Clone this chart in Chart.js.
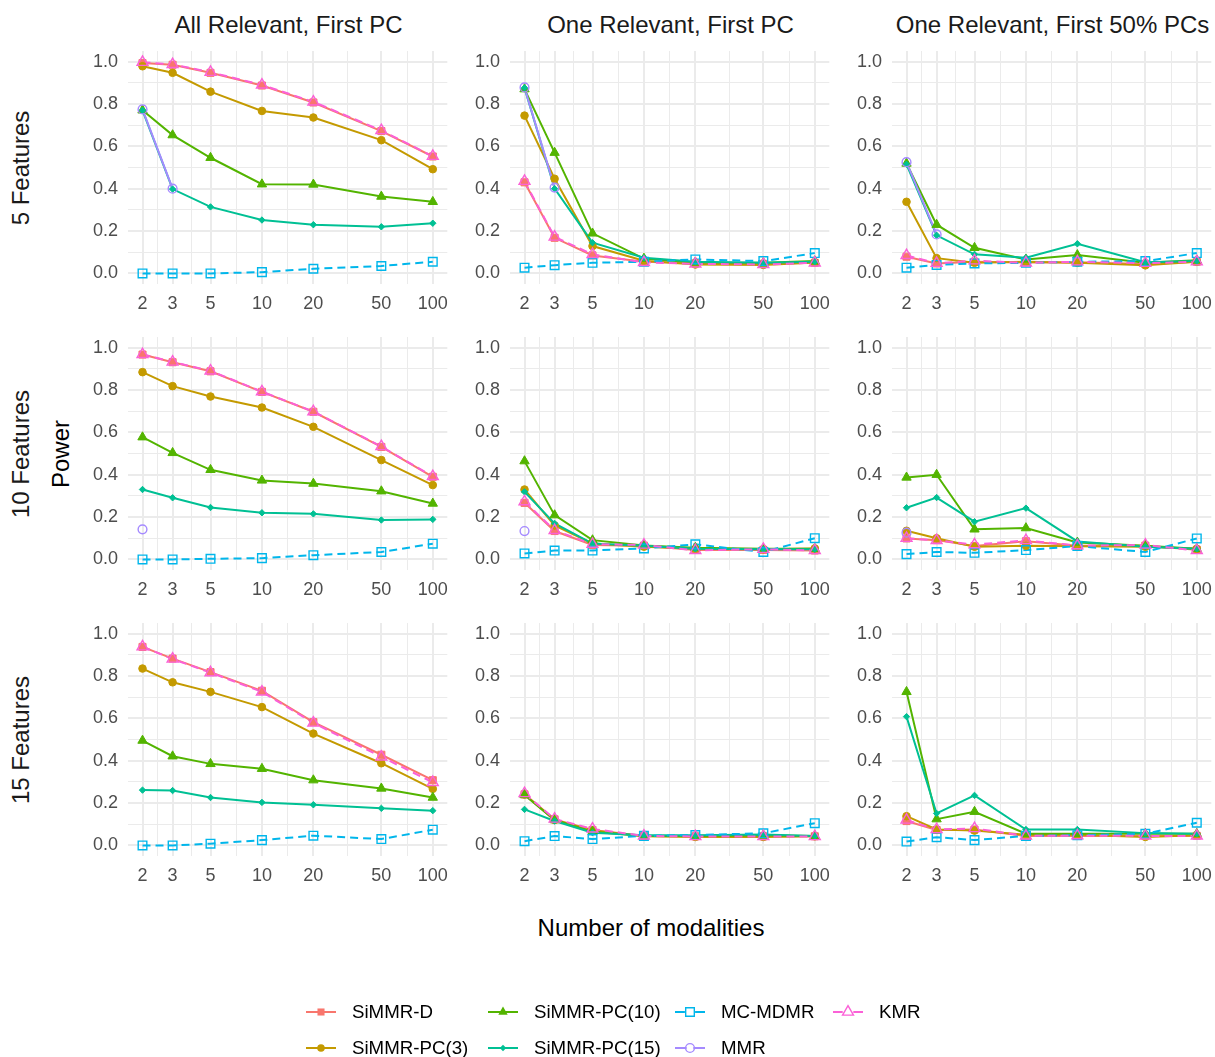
<!DOCTYPE html>
<html>
<head>
<meta charset="utf-8">
<script src="https://cdn.jsdelivr.net/npm/chart.js@4.4.1/dist/chart.umd.min.js"></script>
<style>
html, body { margin: 0; padding: 0; background: #fff; overflow: hidden; }
body { width: 1215px; height: 1057px; position: relative; font-family: "Liberation Sans", Arial, Helvetica, sans-serif; }
.lab { position: absolute; white-space: nowrap; line-height: 1; }
canvas { position: absolute; }
</style>
</head>
<body>
<script>
// Data
const modalities = [2, 3, 5, 10, 20, 50, 100];
const methods = ['SiMMR-D', 'SiMMR-PC(3)', 'SiMMR-PC(10)', 'SiMMR-PC(15)', 'MC-MDMR', 'MMR', 'KMR'];
const colTitles = ['All Relevant, First PC', 'One Relevant, First PC', 'One Relevant, First 50% PCs'];
const rowTitles = ['5 Features', '10 Features', '15 Features'];
const yMajor = [0, 0.2, 0.4, 0.6, 0.8, 1.0];
const yMinor = [0.1, 0.3, 0.5, 0.7, 0.9];
const NA = null;

// one row per method, same order as `methods`
const pow5AllPC1 = [
    [0.993, 0.985, 0.947, 0.887, 0.807, 0.672, 0.552],
    [0.978, 0.947, 0.858, 0.767, 0.736, 0.629, 0.492],
    [0.770, 0.653, 0.546, 0.421, 0.420, 0.363, 0.338],
    [0.770, 0.398, 0.314, 0.252, 0.230, 0.220, 0.237],
    [0.000, 0.000, 0.000, 0.006, 0.022, 0.035, 0.055],
    [0.774, 0.400, NA, NA, NA, NA, NA],
    [0.997, 0.987, 0.950, 0.890, 0.810, 0.675, 0.553]
];
const pow5OnePC1 = [
    [0.430, 0.168, 0.085, 0.055, 0.048, 0.045, 0.050],
    [0.745, 0.447, 0.129, 0.060, 0.042, 0.040, 0.052],
    [0.870, 0.570, 0.189, 0.070, 0.052, 0.050, 0.058],
    [0.876, 0.400, 0.145, 0.074, 0.055, 0.050, 0.055],
    [0.027, 0.039, 0.050, 0.055, 0.066, 0.058, 0.096],
    [0.878, 0.405, NA, NA, NA, NA, NA],
    [0.435, 0.172, 0.090, 0.052, 0.045, 0.042, 0.050]
];
const pow5OnePC50 = [
    [0.079, 0.047, 0.055, 0.052, 0.053, 0.045, 0.055],
    [0.338, 0.072, 0.050, 0.055, 0.050, 0.038, 0.055],
    [0.519, 0.230, 0.121, 0.066, 0.087, 0.050, 0.062],
    [0.515, 0.180, 0.090, 0.074, 0.140, 0.053, 0.058],
    [0.027, 0.040, 0.047, 0.050, 0.055, 0.058, 0.096],
    [0.525, 0.184, NA, NA, NA, NA, NA],
    [0.085, 0.048, 0.060, 0.050, 0.055, 0.048, 0.055]
];
const pow10AllPC1 = [
    [0.967, 0.931, 0.888, 0.791, 0.697, 0.531, 0.390],
    [0.884, 0.818, 0.769, 0.717, 0.626, 0.469, 0.351],
    [0.577, 0.503, 0.423, 0.373, 0.358, 0.322, 0.264],
    [0.330, 0.291, 0.245, 0.220, 0.215, 0.186, 0.189],
    [0.000, 0.000, 0.003, 0.006, 0.020, 0.035, 0.074],
    [0.142, NA, NA, NA, NA, NA, NA],
    [0.968, 0.932, 0.890, 0.792, 0.698, 0.533, 0.392]
];
const pow10OnePC1 = [
    [0.267, 0.134, 0.068, 0.065, 0.045, 0.045, 0.042],
    [0.330, 0.160, 0.075, 0.060, 0.050, 0.048, 0.052],
    [0.464, 0.209, 0.091, 0.066, 0.055, 0.050, 0.050],
    [0.319, 0.170, 0.075, 0.065, 0.050, 0.048, 0.048],
    [0.028, 0.042, 0.042, 0.052, 0.071, 0.035, 0.100],
    [0.134, NA, NA, NA, NA, NA, NA],
    [0.273, 0.137, 0.072, 0.068, 0.043, 0.048, 0.042]
];
const pow10OnePC50 = [
    [0.099, 0.091, 0.063, 0.086, 0.065, 0.065, 0.045],
    [0.135, 0.100, 0.060, 0.064, 0.062, 0.060, 0.050],
    [0.387, 0.400, 0.142, 0.148, 0.080, 0.065, 0.050],
    [0.244, 0.292, 0.178, 0.242, 0.085, 0.060, 0.050],
    [0.025, 0.035, 0.031, 0.044, 0.063, 0.035, 0.099],
    [0.126, NA, NA, NA, NA, NA, NA],
    [0.100, 0.090, 0.070, 0.090, 0.065, 0.068, 0.042]
];
const pow15AllPC1 = [
    [0.937, 0.882, 0.818, 0.730, 0.582, 0.428, 0.308],
    [0.835, 0.770, 0.725, 0.653, 0.528, 0.388, 0.267],
    [0.495, 0.421, 0.385, 0.362, 0.308, 0.269, 0.226],
    [0.261, 0.259, 0.226, 0.203, 0.192, 0.175, 0.164],
    [0.000, 0.000, 0.008, 0.025, 0.046, 0.030, 0.074],
    [NA, NA, NA, NA, NA, NA, NA],
    [0.938, 0.880, 0.816, 0.725, 0.578, 0.418, 0.298]
];
const pow15OnePC1 = [
    [0.241, 0.123, 0.073, 0.045, 0.043, 0.043, 0.043],
    [0.240, 0.120, 0.070, 0.043, 0.040, 0.040, 0.043],
    [0.238, 0.120, 0.065, 0.045, 0.045, 0.048, 0.045],
    [0.170, 0.115, 0.060, 0.048, 0.048, 0.052, 0.045],
    [0.020, 0.044, 0.030, 0.045, 0.049, 0.057, 0.105],
    [NA, NA, NA, NA, NA, NA, NA],
    [0.245, 0.125, 0.078, 0.045, 0.042, 0.042, 0.042]
];
const pow15OnePC50 = [
    [0.115, 0.073, 0.075, 0.045, 0.045, 0.045, 0.045],
    [0.138, 0.075, 0.070, 0.050, 0.050, 0.040, 0.048],
    [0.725, 0.124, 0.159, 0.055, 0.055, 0.055, 0.055],
    [0.608, 0.151, 0.236, 0.075, 0.075, 0.058, 0.055],
    [0.018, 0.039, 0.025, 0.045, 0.048, 0.055, 0.107],
    [NA, NA, NA, NA, NA, NA, NA],
    [0.120, 0.075, 0.080, 0.045, 0.046, 0.045, 0.045]
];

const panels = [
    [pow5AllPC1, pow5OnePC1, pow5OnePC50],
    [pow10AllPC1, pow10OnePC1, pow10OnePC50],
    [pow15AllPC1, pow15OnePC1, pow15OnePC50]
];

// Styles (ggplot hue palette + shapes)
const styles = [
    { color: '#F8766D', shape: 'rect',     r: 5,   open: false, dash: [] },
    { color: '#C49A00', shape: 'circle',   r: 3.8, open: false, dash: [] },
    { color: '#53B400', shape: 'triangle', r: 5.4, open: false, dash: [] },
    { color: '#00C094', shape: 'rectRot',  r: 3.2, open: false, dash: [] },
    { color: '#00B6EB', shape: 'rect',     r: 6.1, open: true,  dash: [8, 5] },
    { color: '#A58AFF', shape: 'circle',   r: 4.4, open: true,  dash: [] },
    { color: '#FB61D7', shape: 'triangle', r: 6.3, open: true,  dash: [8, 5] }
];

// Layout
const colLeft = [128, 510, 892];
const rowTop = [51, 337, 623];
const PW = 321, PH = 233;
const Y_AXIS_W = 45, X_AXIS_H = 36, PAD_T = 8, PAD_R = 6;
const GRID = '#ebebeb';
const FONT = '"Liberation Sans", Arial, Helvetica, sans-serif';

// log axis with 5% expansion like ggplot
const lx0 = Math.log10(modalities[0]), lx1 = Math.log10(modalities[modalities.length - 1]);
const xExp = (lx1 - lx0) * 0.05;
const xMin = Math.pow(10, lx0 - xExp), xMax = Math.pow(10, lx1 + xExp);
const xGrid = [];
modalities.forEach((m, i) => {
    xGrid.push(m);
    if (i < modalities.length - 1) xGrid.push(Math.sqrt(m * modalities[i + 1]));
});
const yGrid = yMajor.concat(yMinor).sort((a, b) => a - b);

function makePanel(r, c) {
    const cv = document.createElement('canvas');
    cv.width = Y_AXIS_W + PW + PAD_R;
    cv.height = PAD_T + PH + X_AXIS_H;
    cv.style.left = (colLeft[c] - Y_AXIS_W) + 'px';
    cv.style.top = (rowTop[r] - PAD_T) + 'px';
    document.body.appendChild(cv);

    const vals = panels[r][c];
    const datasets = [];
    methods.forEach((m, i) => {
        const st = styles[i];
        const pts = modalities.map((x, j) => ({ x: x, y: vals[i][j] }));
        // lines underneath, points on top (like geom_line + geom_point)
        datasets.push({
            label: m, data: pts, borderColor: st.color, borderWidth: 2,
            borderDash: st.dash, pointRadius: 0, fill: false, tension: 0,
            spanGaps: false, order: 20 + (methods.length - 1 - i)
        });
        datasets.push({
            label: m, data: pts, showLine: false, pointStyle: st.shape,
            pointRadius: st.r, pointBorderWidth: st.open ? 1.4 : 1,
            pointBorderColor: st.color,
            pointBackgroundColor: st.open ? 'rgba(0,0,0,0)' : st.color,
            order: methods.length - 1 - i
        });
    });

    new Chart(cv, {
        type: 'line',
        data: { datasets: datasets },
        options: {
            responsive: false,
            animation: false,
            events: [],
            layout: { padding: { top: PAD_T, right: PAD_R, left: 0, bottom: 0 } },
            plugins: { legend: { display: false }, tooltip: { enabled: false } },
            scales: {
                x: {
                    type: 'logarithmic',
                    min: xMin, max: xMax, bounds: 'data',
                    afterBuildTicks: s => { s.ticks = xGrid.map(v => ({ value: v })); },
                    afterFit: s => { s.height = X_AXIS_H; s.paddingLeft = 0; s.paddingRight = 0; },
                    ticks: {
                        autoSkip: false, maxRotation: 0, minRotation: 0, padding: 9,
                        color: '#4d4d4d', font: { family: FONT, size: 18 },
                        callback: v => modalities.includes(v) ? String(v) : ''
                    },
                    grid: {
                        color: GRID, drawTicks: false,
                        lineWidth: ctx => (ctx.tick && modalities.includes(ctx.tick.value)) ? 2 : 1
                    },
                    border: { display: false }
                },
                y: {
                    type: 'linear',
                    min: -0.05, max: 1.05, bounds: 'data',
                    afterBuildTicks: s => { s.ticks = yGrid.map(v => ({ value: v })); },
                    afterFit: s => { s.width = Y_AXIS_W; s.paddingTop = 0; s.paddingBottom = 0; },
                    ticks: {
                        autoSkip: false, padding: 10,
                        color: '#4d4d4d', font: { family: FONT, size: 18 },
                        callback: v => yMajor.includes(v) ? v.toFixed(1) : ''
                    },
                    grid: {
                        color: GRID, drawTicks: false,
                        lineWidth: ctx => (ctx.tick && yMajor.includes(ctx.tick.value)) ? 2 : 1
                    },
                    border: { display: false }
                }
            }
        }
    });
}

function addLabel(text, x, y, size, color, opts) {
    opts = opts || {};
    const d = document.createElement('div');
    d.className = 'lab';
    d.textContent = text;
    d.style.left = x + 'px';
    d.style.top = y + 'px';
    d.style.fontSize = size + 'px';
    d.style.color = color;
    let tf = opts.left ? 'translate(0,-50%)' : 'translate(-50%,-50%)';
    if (opts.rotate) tf += ' rotate(-90deg)';
    d.style.transform = tf;
    document.body.appendChild(d);
}

// Panels
for (let r = 0; r < 3; r++) {
    for (let c = 0; c < 3; c++) makePanel(r, c);
}

// Strip and axis titles
colTitles.forEach((t, c) => addLabel(t, colLeft[c] + PW / 2, 25, 24, '#1a1a1a'));
rowTitles.forEach((t, r) => addLabel(t, 21, rowTop[r] + PH / 2, 24, '#1a1a1a', { rotate: true }));
addLabel('Power', 61, 454, 24, '#000', { rotate: true });
addLabel('Number of modalities', 651, 928, 24, '#000');

// Legend (2 rows, filled by column)
const legendCols = [321, 503, 690, 848];
const legendRows = [1012, 1048];
const lg = document.createElement('canvas');
lg.width = 700; lg.height = 80;
lg.style.left = '280px'; lg.style.top = '985px';
document.body.appendChild(lg);
const g = lg.getContext('2d');

function drawKey(st, cx, cy) {
    g.strokeStyle = st.color;
    g.fillStyle = st.color;
    g.lineWidth = 2;
    g.setLineDash([]);
    g.beginPath();
    if (st.open) {
        g.moveTo(cx - 15, cy); g.lineTo(cx - st.r + 1, cy);
        g.moveTo(cx + st.r - 1, cy); g.lineTo(cx + 15, cy);
    } else {
        g.moveTo(cx - 15, cy); g.lineTo(cx + 15, cy);
    }
    g.stroke();
    g.lineWidth = 1.4;
    g.beginPath();
    const r = st.r;
    if (st.shape === 'rect') {
        const s = r * Math.SQRT1_2;
        g.rect(cx - s, cy - s, 2 * s, 2 * s);
    } else if (st.shape === 'circle') {
        g.arc(cx, cy, r, 0, Math.PI * 2);
    } else if (st.shape === 'triangle') {
        g.moveTo(cx, cy - r);
        g.lineTo(cx + r * Math.cos(Math.PI / 6), cy + r * 0.5);
        g.lineTo(cx - r * Math.cos(Math.PI / 6), cy + r * 0.5);
        g.closePath();
    } else {
        g.moveTo(cx - r, cy); g.lineTo(cx, cy - r); g.lineTo(cx + r, cy); g.lineTo(cx, cy + r);
        g.closePath();
    }
    if (st.open) g.stroke(); else g.fill();
}

methods.forEach((m, i) => {
    const col = Math.floor(i / 2), row = i % 2;
    const cx = legendCols[col], cy = legendRows[row];
    drawKey(styles[i], cx - 280, cy - 985);
    addLabel(m, cx + 31, cy, 18.7, '#000', { left: true });
});
</script>
</body>
</html>
